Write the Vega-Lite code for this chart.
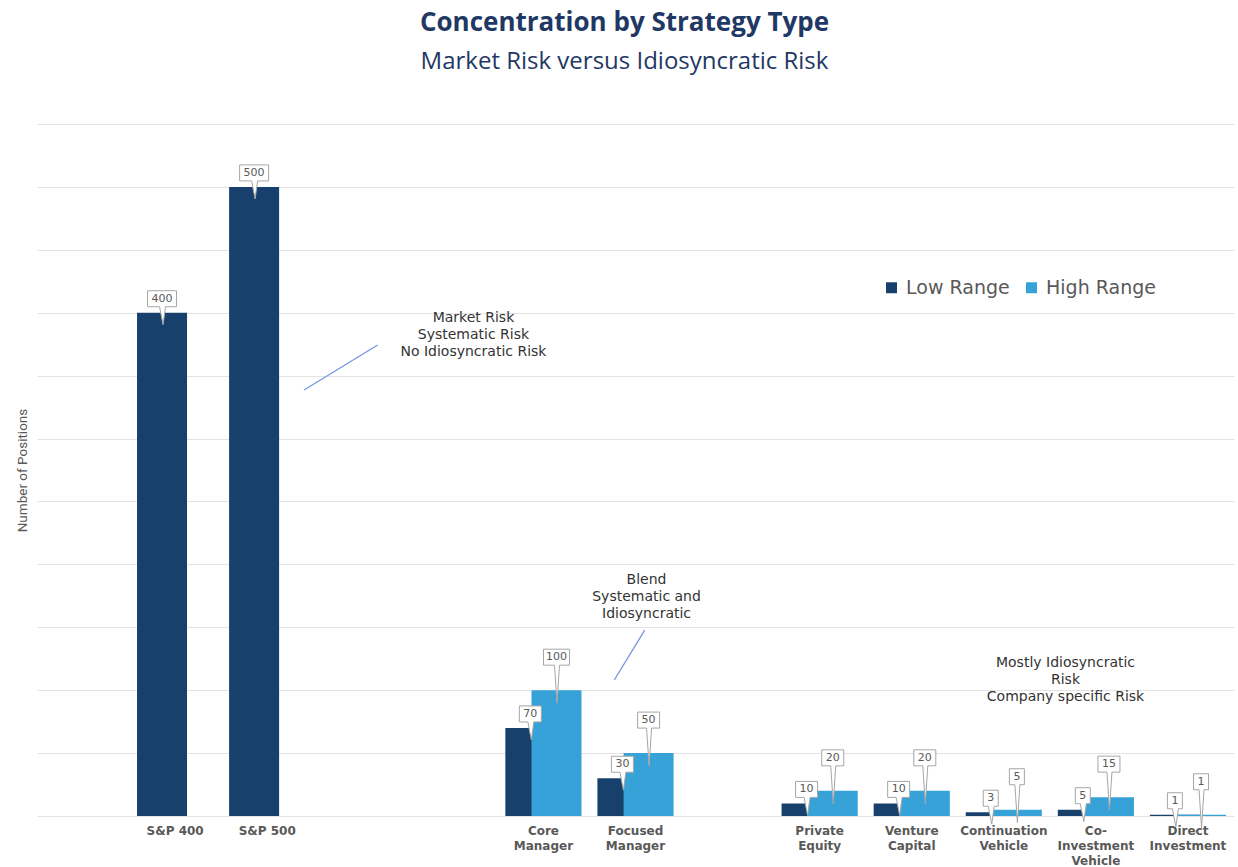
{
  "$schema": "https://vega.github.io/schema/vega-lite/v6.json",
  "autosize": "none",
  "width": 1197,
  "height": 692,
  "padding": {"left": 37, "top": 124, "right": 4, "bottom": 51},
  "background": "white",
  "title": {
    "text": "Concentration by Strategy Type",
    "subtitle": "Market Risk versus Idiosyncratic Risk",
    "font": "Open Sans",
    "fontSize": 26,
    "fontWeight": "bold",
    "color": "#1f3864",
    "subtitleFont": "Open Sans",
    "subtitleFontSize": 24,
    "subtitleFontWeight": "normal",
    "subtitleColor": "#1f3864",
    "anchor": "middle",
    "dx": -11,
    "offset": 50,
    "subtitlePadding": 14
  },
  "config": {"view": {"stroke": null}},
  "datasets": {
    "bars": [
      {"category": "S&P 400", "series": "Low Range", "value": 400},
      {"category": "S&P 500", "series": "Low Range", "value": 500},
      {"category": "Core Manager", "series": "Low Range", "value": 70},
      {"category": "Core Manager", "series": "High Range", "value": 100},
      {"category": "Focused Manager", "series": "Low Range", "value": 30},
      {"category": "Focused Manager", "series": "High Range", "value": 50},
      {"category": "Private Equity", "series": "Low Range", "value": 10},
      {"category": "Private Equity", "series": "High Range", "value": 20},
      {"category": "Venture Capital", "series": "Low Range", "value": 10},
      {"category": "Venture Capital", "series": "High Range", "value": 20},
      {"category": "Continuation Vehicle", "series": "Low Range", "value": 3},
      {"category": "Continuation Vehicle", "series": "High Range", "value": 5},
      {"category": "Co-Investment Vehicle", "series": "Low Range", "value": 5},
      {"category": "Co-Investment Vehicle", "series": "High Range", "value": 15},
      {"category": "Direct Investment", "series": "Low Range", "value": 1},
      {"category": "Direct Investment", "series": "High Range", "value": 1}
    ],
    "notes": [
      {"note": "Market Risk\nSystematic Risk\nNo Idiosyncratic Risk", "px": 3.24, "py": 395.8},
      {"note": "Blend\nSystematic and\nIdiosyncratic", "px": 5.12, "py": 187.6},
      {"note": "Mostly Idiosyncratic\nRisk\nCompany specific Risk", "px": 9.67, "py": 121.6}
    ],
    "lines": [
      {"xa": 2.2, "ya": 374.3, "xb": 1.4, "yb": 338.6},
      {"xa": 5.1, "ya": 147.8, "xb": 4.77, "yb": 108.1}
    ]
  },
  "resolve": {"scale": {"x": "independent"}},
  "layer": [
    {
      "data": {"name": "bars"},
      "encoding": {
        "x": {
          "field": "category",
          "type": "nominal",
          "sort": null,
          "scale": {
            "domain": ["S&P 400", "S&P 500", "gap1", "gap2", "Core Manager", "Focused Manager", "gap3", "Private Equity", "Venture Capital", "Continuation Vehicle", "Co-Investment Vehicle", "Direct Investment"],
            "paddingInner": 0,
            "paddingOuter": 0.5,
            "align": 1
          },
          "axis": {
            "title": null,
            "domain": false,
            "ticks": false,
            "grid": false,
            "labelAngle": 0,
            "labelPadding": 9,
            "labelFont": "DejaVu Sans",
            "labelFontWeight": "bold",
            "labelFontSize": 12,
            "labelColor": "#595959",
            "labelLineHeight": 15,
            "labelOverlap": false,
            "labelExpr": "indexof(datum.label, 'gap') == 0 ? '' : (indexof(datum.label, 'S&P') == 0 ? datum.label : split(replace(datum.label, 'Co-', 'Co- '), ' '))"
          }
        },
        "xOffset": {
          "field": "series",
          "type": "nominal",
          "scale": {"domain": ["Low Range", "High Range"], "paddingInner": 0, "paddingOuter": 0.76}
        },
        "y": {
          "field": "value",
          "type": "quantitative",
          "scale": {"domain": [0, 550], "nice": false},
          "axis": {
            "title": "Number of Positions",
            "titleFont": "Roboto",
            "titleFontSize": 13.5,
            "titleFontWeight": "normal",
            "titleColor": "#595959",
            "titlePadding": 8,
            "labels": false,
            "ticks": false,
            "domain": false,
            "grid": true,
            "gridColor": "#e3e3e3",
            "gridWidth": 1,
            "values": [0, 50, 100, 150, 200, 250, 300, 350, 400, 450, 500, 550]
          }
        }
      },
      "layer": [
        {
          "mark": {"type": "bar", "width": 50},
          "encoding": {
            "color": {
              "field": "series",
              "type": "nominal",
              "scale": {"domain": ["Low Range", "High Range"], "range": ["#17406d", "#37a2d8"]},
              "legend": {
                "orient": "none",
                "legendX": 845,
                "legendY": 154,
                "direction": "horizontal",
                "title": null,
                "symbolType": "square",
                "symbolSize": 120,
                "symbolStrokeWidth": 0,
                "labelFont": "DejaVu Sans",
                "labelFontSize": 19,
                "labelColor": "#595959",
                "labelOffset": 5,
                "columnPadding": 12,
                "padding": 0
              }
            }
          }
        },
        {
          "transform": [{"filter": "datum.series == 'Low Range'"}],
          "mark": {"type": "point", "fill": "white", "stroke": "#a6a6a6", "strokeWidth": 1, "size": 400, "opacity": 1},
          "encoding": {
            "shape": {
              "condition": [
                {"test": "datum.value >= 100", "value": "M-1.45,-2.2L1.45,-2.2L1.45,-0.6L0.35,-0.6L0.1,1.2L-0.25,-0.6L-1.45,-0.6Z"},
                {"test": "datum.value >= 10", "value": "M-1.1,-2.2L1.1,-2.2L1.1,-0.6L0.35,-0.6L0.1,1.2L-0.25,-0.6L-1.1,-0.6Z"}
              ],
              "value": "M-0.75,-2.2L0.75,-2.2L0.75,-0.6L0.35,-0.6L0.1,1.2L-0.25,-0.6L-0.75,-0.6Z"
            }
          }
        },
        {
          "transform": [{"filter": "datum.series == 'Low Range'"}],
          "mark": {"type": "text", "dy": -14, "font": "DejaVu Sans", "fontSize": 11, "color": "#595959", "baseline": "middle", "align": "center"},
          "encoding": {"text": {"field": "value", "type": "quantitative"}}
        },
        {
          "transform": [{"filter": "datum.series == 'High Range'"}],
          "mark": {"type": "point", "fill": "white", "stroke": "#a6a6a6", "strokeWidth": 1, "size": 400, "opacity": 1},
          "encoding": {
            "shape": {
              "condition": [
                {"test": "datum.value >= 100", "value": "M-1.3,-4.1L1.3,-4.1L1.3,-2.5L0.3,-2.5L0.05,1.3L-0.2,-2.5L-1.3,-2.5Z"},
                {"test": "datum.value >= 10", "value": "M-1.1,-4.1L1.1,-4.1L1.1,-2.5L0.3,-2.5L0.05,1.3L-0.2,-2.5L-1.1,-2.5Z"}
              ],
              "value": "M-0.75,-4.1L0.75,-4.1L0.75,-2.5L0.3,-2.5L0.05,1.3L-0.2,-2.5L-0.75,-2.5Z"
            }
          }
        },
        {
          "transform": [{"filter": "datum.series == 'High Range'"}],
          "mark": {"type": "text", "dy": -33, "font": "DejaVu Sans", "fontSize": 11, "color": "#595959", "baseline": "middle", "align": "center"},
          "encoding": {"text": {"field": "value", "type": "quantitative"}}
        }
      ]
    },
    {
      "data": {"name": "lines"},
      "mark": {"type": "rule", "color": "#7396e0", "strokeWidth": 1.3},
      "encoding": {
        "x": {"field": "xa", "type": "quantitative", "scale": {"domain": [-1.5, 11.5], "nice": false, "zero": false}, "axis": null},
        "x2": {"field": "xb"},
        "y": {"field": "ya", "type": "quantitative"},
        "y2": {"field": "yb"}
      }
    },
    {
      "data": {"name": "notes"},
      "mark": {"type": "text", "lineBreak": "\n", "lineHeight": 17, "font": "DejaVu Sans", "fontSize": 14, "color": "#333333", "align": "center", "baseline": "middle"},
      "encoding": {
        "x": {"field": "px", "type": "quantitative", "scale": {"domain": [-1.5, 11.5], "nice": false, "zero": false}, "axis": null},
        "y": {"field": "py", "type": "quantitative"},
        "text": {"field": "note"}
      }
    }
  ]
}
